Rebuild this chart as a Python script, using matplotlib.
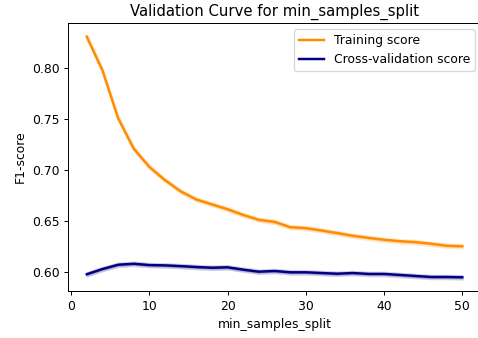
import numpy as np
import matplotlib
matplotlib.use("Agg")
import matplotlib.pyplot as plt

param_range = [2, 4, 6, 8, 10, 12, 14, 16, 18, 20, 22, 24, 26,
               28, 30, 32, 34, 36, 38, 40, 42, 44, 46, 48, 50]

train_mean = [0.831, 0.798, 0.751, 0.721, 0.703, 0.690, 0.679, 0.671, 0.6662,
              0.6614, 0.6558, 0.651, 0.649, 0.6438, 0.6428, 0.6405, 0.638,
              0.6353, 0.6333, 0.6314, 0.630, 0.6291, 0.6275, 0.6255, 0.625]
train_std = [0.0015] * 25

test_mean = [0.5975, 0.6026, 0.6068, 0.6078, 0.6065, 0.6062, 0.6055, 0.6046,
             0.6039, 0.6043, 0.602, 0.600, 0.6007, 0.5994, 0.5994, 0.5987,
             0.598, 0.5987, 0.5978, 0.5978, 0.5968, 0.5958, 0.5948, 0.5948,
             0.5945]
test_std = [0.0015] * 25

train_mean = np.array(train_mean)
train_std = np.array(train_std)
test_mean = np.array(test_mean)
test_std = np.array(test_std)

dpi = 89
fig = plt.figure(figsize=(479 / dpi, 338 / dpi), dpi=dpi)
ax = fig.add_axes([68 / 479, 47 / 338, 413 / 479, 268 / 338])

ax.plot(param_range, train_mean, label="Training score", color="darkorange", lw=2)
ax.fill_between(param_range, train_mean - train_std, train_mean + train_std,
                alpha=0.2, color="darkorange", lw=2)
ax.plot(param_range, test_mean, label="Cross-validation score", color="navy", lw=2)
ax.fill_between(param_range, test_mean - test_std, test_mean + test_std,
                alpha=0.2, color="navy", lw=2)

ax.set_title("Validation Curve for min_samples_split")
ax.set_xlabel("min_samples_split")
ax.set_ylabel("F1-score")
ax.legend(loc="best")

fig.savefig("out.png", dpi=dpi)
